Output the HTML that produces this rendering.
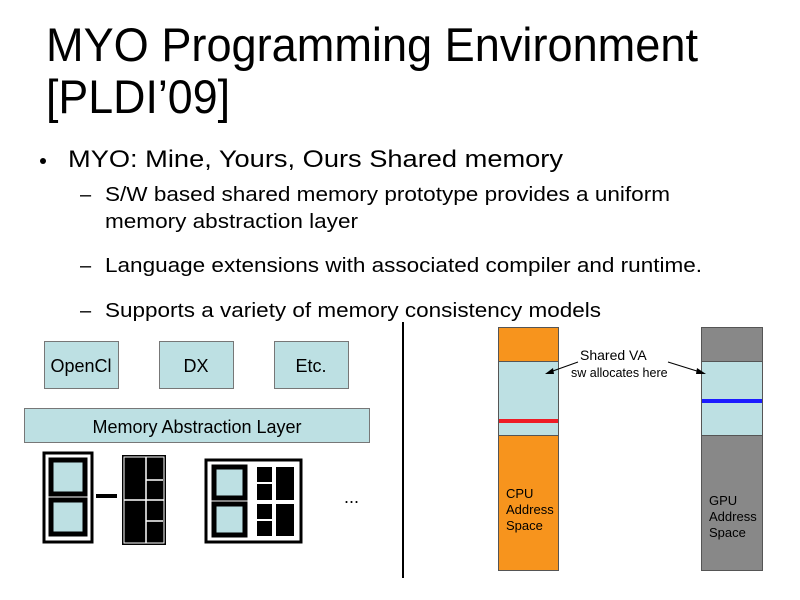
<!DOCTYPE html>
<html><head><meta charset="utf-8"><style>body{margin:0;background:#fff}svg{display:block}</style></head><body>
<svg width="800" height="600" xmlns="http://www.w3.org/2000/svg" font-family="Liberation Sans, Arial, sans-serif">
<rect width="800" height="600" fill="#fff"/>
<text x="46" y="61" font-size="47" textLength="652" lengthAdjust="spacingAndGlyphs">MYO Programming Environment</text>
<text x="46" y="113" font-size="47" textLength="184" lengthAdjust="spacingAndGlyphs">[PLDI’09]</text>
<circle cx="43" cy="161" r="3" fill="#000"/>
<text x="68" y="167" font-size="24" textLength="495" lengthAdjust="spacingAndGlyphs">MYO: Mine, Yours, Ours Shared memory</text>
<g font-size="20">
<text x="80" y="201">–</text>
<text x="105" y="201" textLength="565" lengthAdjust="spacingAndGlyphs">S/W based shared memory prototype provides a uniform</text>
<text x="105" y="228" textLength="253" lengthAdjust="spacingAndGlyphs">memory abstraction layer</text>
<text x="80" y="272">–</text>
<text x="105" y="272" textLength="597" lengthAdjust="spacingAndGlyphs">Language extensions with associated compiler and runtime.</text>
<text x="80" y="317">–</text>
<text x="105" y="317" textLength="496" lengthAdjust="spacingAndGlyphs">Supports a variety of memory consistency models</text>
</g>
<line x1="403" y1="322" x2="403" y2="578" stroke="#000" stroke-width="2"/>
<g fill="#bde0e3" stroke="#777" stroke-width="1">
<rect x="44.5" y="341.5" width="74" height="47"/>
<rect x="159.5" y="341.5" width="74" height="47"/>
<rect x="274.5" y="341.5" width="74" height="47"/>
<rect x="24.5" y="408.5" width="345" height="34"/>
</g>
<g font-size="18" text-anchor="middle">
<text x="81" y="372">OpenCl</text>
<text x="196" y="372">DX</text>
<text x="311" y="372">Etc.</text>
<text x="197" y="433">Memory Abstraction Layer</text>
</g>
<!-- chip1 -->
<rect x="44" y="453" width="48" height="89" fill="#fff" stroke="#000" stroke-width="3"/>
<rect x="51" y="460" width="34" height="34" fill="#bde0e3" stroke="#000" stroke-width="5"/>
<rect x="51" y="500" width="34" height="34" fill="#bde0e3" stroke="#000" stroke-width="5"/>
<rect x="96" y="494" width="21" height="4" fill="#000"/>
<!-- chip2 -->
<rect x="122" y="455" width="44" height="90" fill="#000"/>
<rect x="124" y="457" width="40" height="86" fill="#000" stroke="#fff" stroke-width="1"/>
<g stroke="#fff" stroke-width="1.5">
<line x1="124" y1="500" x2="164" y2="500"/>
<line x1="146" y1="457" x2="146" y2="543"/>
<line x1="146" y1="480" x2="163" y2="480"/>
<line x1="146" y1="521" x2="163" y2="521"/>
</g>
<!-- chip3 -->
<rect x="206" y="460" width="95" height="82" fill="#fff" stroke="#000" stroke-width="3"/>
<rect x="214" y="467" width="31" height="31" fill="#bde0e3" stroke="#000" stroke-width="5"/>
<rect x="214" y="504" width="31" height="31" fill="#bde0e3" stroke="#000" stroke-width="5"/>
<rect x="257" y="467" width="15" height="15" fill="#000"/>
<rect x="257" y="484" width="15" height="16" fill="#000"/>
<rect x="276" y="467" width="18" height="33" fill="#000"/>
<rect x="257" y="504" width="15" height="15" fill="#000"/>
<rect x="257" y="521" width="15" height="15" fill="#000"/>
<rect x="276" y="504" width="18" height="32" fill="#000"/>
<text x="344" y="503" font-size="18">...</text>
<!-- CPU -->
<rect x="498.5" y="327.5" width="60" height="243" fill="#f7941d" stroke="#555"/>
<rect x="498.5" y="361.5" width="60" height="74" fill="#bde0e3" stroke="#555"/>
<rect x="499" y="419" width="59" height="4" fill="#ee1c25"/>
<!-- GPU -->
<rect x="701.5" y="327.5" width="61" height="243" fill="#888" stroke="#555"/>
<rect x="701.5" y="361.5" width="61" height="74" fill="#bde0e3" stroke="#555"/>
<rect x="702" y="399" width="60" height="4" fill="#1c1cff"/>
<text x="580" y="360" font-size="14">Shared VA</text>
<text x="571" y="377" font-size="12.5">sw allocates here</text>
<g stroke="#000" stroke-width="1">
<line x1="578" y1="362" x2="550" y2="372"/>
<line x1="668" y1="362" x2="700" y2="372"/>
</g>
<polygon points="545,374 553,368 554,374" fill="#000"/>
<polygon points="706,374 697,368 696,374" fill="#000"/>
<g font-size="13">
<text x="506" y="498">CPU</text><text x="506" y="514">Address</text><text x="506" y="530">Space</text>
<text x="709" y="505">GPU</text><text x="709" y="521">Address</text><text x="709" y="537">Space</text>
</g>
</svg>
</body></html>
